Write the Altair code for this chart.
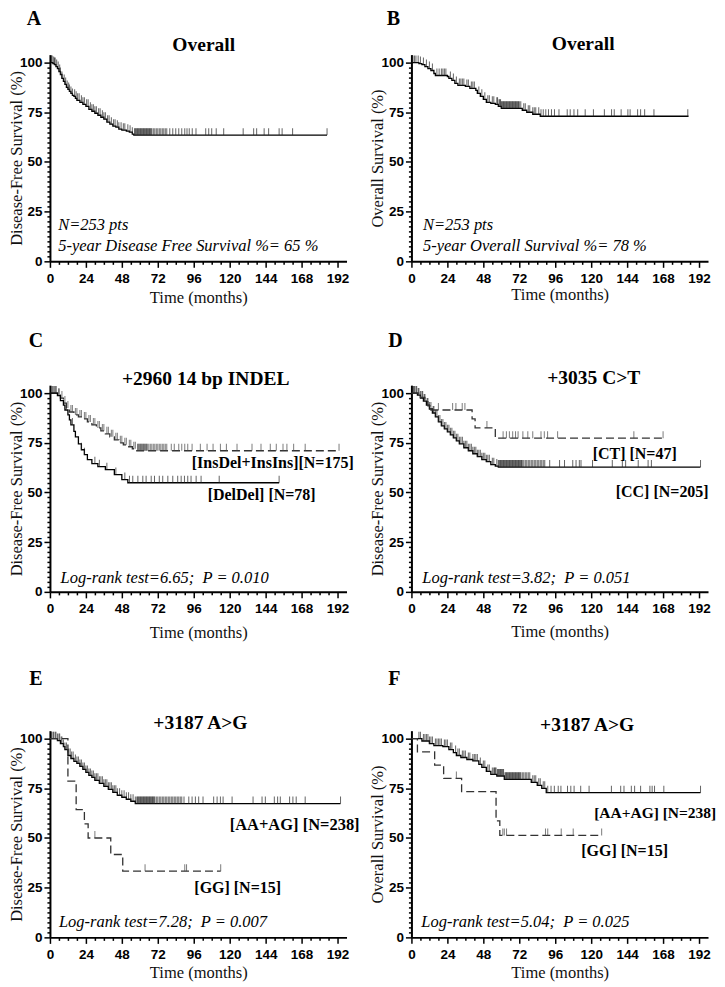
import altair as alt
import pandas as pd
from bisect import bisect_right

# ---------------- data ----------------
# Panel A: Disease-free survival, overall
A_t = [0, 2, 3, 4, 5, 6, 7, 8, 9, 10, 11, 12, 13, 14, 15, 16, 17, 18, 20, 22, 24, 26, 28, 30, 32, 34, 36, 38, 40, 42, 44, 46, 48, 51, 53, 55, 56]
A_s = [100, 99.5, 99, 98, 97, 95.5, 94, 92, 90.5, 89, 87.5, 86.5, 85.5, 84.5, 83.5, 83, 82, 81, 80, 79, 78, 76.5, 75.5, 74.5, 73.5, 72.5, 71.5, 70, 69, 68, 67.5, 66.5, 66, 65.5, 65, 64, 63.5]
A_end = 185
A_c = [1, 1.5, 2.5, 3, 3.5, 4.5, 5.5, 6.5, 7, 8, 9.5, 10.5, 11.5, 12.5, 13, 14, 15, 16.5, 17.5, 18.5, 19.5, 21, 22, 23, 24.5, 25.5, 27, 28, 29, 30, 31, 32.5, 33.5, 35, 36, 37, 38.5, 39.5, 41, 42.5, 43.5, 45, 46, 47.5, 49, 50, 52, 53.5, 55,
       56.5, 57, 57.5, 58, 58.5, 59, 59.5, 60, 60.5, 61, 61.5, 62, 62.5, 63, 63.5, 64, 64.5, 65, 65.5, 66, 66.5, 67, 67.5, 68, 69, 70, 71, 72, 73, 74, 75, 76, 77, 78,
       80, 82, 84, 86, 88, 90, 91.5, 93, 95, 97.5, 104, 106, 108, 111, 116, 129, 136, 138, 143, 146, 153, 155, 162, 185]

# Panel B: Overall survival, overall
B_t = [0, 5, 7, 9, 11, 13, 15, 16, 24, 25, 27, 29, 31, 36, 39, 43, 44, 46, 48, 50, 53, 56, 58, 60, 74, 77, 81, 86]
B_s = [100, 99.5, 99, 98, 97, 96, 94.5, 93.5, 93, 92, 91, 89.5, 88.5, 88, 87, 86, 84.5, 83, 81.5, 80, 79.5, 79, 78, 77, 76, 75, 74, 73]
B_end = 185
B_c = [1, 2, 3, 4.5, 6, 8, 10, 12, 14, 17, 18.5, 20, 21, 22, 23, 26, 28, 30, 32, 33, 34, 35, 37, 38, 40, 41, 42, 45, 47, 49, 51, 52, 54, 55, 57,
       57.5, 58.5, 59, 59.5, 60, 60.5, 61, 61.5, 62, 62.5, 63, 63.5, 64, 64.5, 65, 65.5, 66, 66.5, 67, 67.5, 68, 68.5, 69, 69.5, 70, 70.5, 71, 71.5, 72, 73,
       75, 76, 78, 79, 81, 82, 83, 85, 86.5, 88,
       89.7, 91.5, 93.5, 95.5, 98.5, 104, 106, 108.5, 111, 116, 121.5, 128.8, 133.6, 135.4, 140, 144.5, 146, 151, 153, 155.7, 161.9, 184.5]

# Panel C: +2960 14 bp INDEL (DFS)
C1_t = [0, 5, 7, 9, 11, 13, 16, 19, 22, 25, 28, 31, 34, 37, 40, 43, 46, 49, 52, 55, 58]
C1_s = [100, 99, 97.5, 95, 92.5, 90.5, 89, 88, 87, 85.5, 84, 82.5, 81, 79.5, 78, 76.5, 75, 74, 73, 72, 71]
C1_end = 193
C1_c = [1, 2, 3, 4, 6, 8, 10, 12, 14, 15, 17, 18, 20, 21, 23, 24, 26, 27, 29, 30, 32, 33, 35, 36, 38, 39, 41, 42, 44, 45, 47, 48, 50, 51, 53, 54, 56, 57,
        58.5, 59, 59.5, 60, 60.5, 61, 61.5, 62, 62.5, 63, 63.5, 64, 64.5, 65, 66, 67, 68, 69, 70, 71, 72, 73, 74, 75, 76, 77, 78,
        81, 83, 86, 88, 90, 92, 94.9, 100.4, 104.9, 108.9, 113.8, 117.8, 124.9, 134.9, 140.9, 147.1, 151.1, 155.6, 158.2, 162.7, 170.4, 193]
C2_t = [0, 5, 7, 9, 10, 12, 13, 14, 16, 17, 19, 21, 23, 25, 28, 32, 37, 43, 48, 52]
C2_s = [100, 98.7, 96.2, 94, 91.5, 89, 86.5, 84, 80.7, 78, 74.5, 71.5, 69, 66.5, 64.5, 63, 61.5, 59, 56.5, 54.9]
C2_end = 153
C2_c = [2, 4, 6, 15, 21, 23, 30, 33, 38, 44, 50, 53.1, 55.3, 58.7, 62, 64.2, 67.6, 69.8, 73, 75.3, 78.7, 82, 85.3, 87.6, 89.8, 92, 94.2, 97.6, 100.9, 113, 153]

# Panel D: +3035 C>T (DFS)
D1_t = [0, 4, 6, 8, 10, 12, 14, 16, 18, 20, 22, 24, 26, 28, 30, 32, 35, 38, 41, 44, 47, 50, 53, 56, 58]
D1_s = [100, 99, 97.5, 96, 94, 92, 90, 88, 85.5, 83.5, 82, 80.5, 79, 77.5, 76, 74.5, 72.5, 71, 69.5, 68, 66.5, 65.5, 64, 63.3, 62.8]
D1_end = 193
D1_c = [1, 1.5, 2, 3, 3.5, 4.5, 5, 6, 7, 7.5, 8.5, 9, 10.5, 11, 12, 13, 14.5, 15, 16, 17, 18, 19, 20, 21, 22, 23, 24, 25, 26, 27, 28, 29, 30, 31, 32, 33, 34, 35, 36, 37, 38, 39, 40, 41, 42, 43, 44, 45, 46, 47, 48, 49, 50, 51, 52, 54, 55, 57,
        58, 58.5, 59, 59.5, 60, 60.5, 61, 61.5, 62, 62.5, 63, 63.5, 64, 64.5, 65, 65.5, 66, 66.5, 67, 67.5, 68, 68.5, 69, 69.5, 70, 70.5, 71, 71.5, 72, 72.5, 73, 73.5, 74, 75, 76, 77, 78, 79, 80, 81, 82, 83, 84, 85, 86, 87, 88, 89,
        92.3, 98.9, 102.2, 107.7, 109.9, 112.1, 113.2, 120.9, 134.1, 140.8, 143, 151.4, 158, 160.2, 193]
D2_t = [0, 6, 9, 11, 13, 40.5, 42.5, 56]
D2_s = [100, 97.9, 95.7, 93.6, 91.5, 87, 82.5, 77.3]
D2_end = 168
D2_c = [18, 27.5, 29.7, 33.9, 35.7, 50.4, 61.2, 63.4, 65.4, 67.6, 69.5, 71.2, 74.4, 77.7, 81, 86.5, 88.7, 90.9, 97.6, 148.5, 168]

# Panel E: +3187 A>G (DFS)
E1_t = [0, 5, 7, 9, 10, 12, 14, 16, 18, 20, 22, 24, 26, 28, 30, 33, 36, 39, 42, 45, 48, 51, 54, 57]
E1_s = [100, 99, 97.5, 96, 94.5, 91.5, 90, 88.5, 87.5, 86, 84.5, 83, 81.5, 80.5, 79, 77.5, 76, 74.5, 73, 71.5, 70.5, 69.5, 68.5, 67.3]
E1_end = 194
E1_c = [1, 2, 2.5, 3.5, 4, 5, 6, 6.5, 7.5, 8, 9, 10, 11, 12.5, 13.5, 14.5, 15.5, 17, 18, 19, 20, 21, 22, 23, 24, 25, 26, 27, 28, 29, 30, 31, 32, 33, 34, 35, 36, 37, 38, 39, 40, 41, 42, 43, 44, 45, 46.5, 48, 49.5, 51, 52.5, 54, 55.5, 57,
        58, 58.5, 59, 59.5, 60, 60.5, 61, 61.5, 62, 62.5, 63, 63.5, 64, 64.5, 65, 65.5, 66, 66.5, 67, 67.5, 68, 68.5, 69, 69.5, 70, 71, 72, 73, 74, 75, 76, 77, 78, 79, 80, 81, 82, 83, 84, 85, 86, 87, 88, 89.5,
        92.7, 94.9, 97.1, 99.3, 102.2, 109.3, 111.6, 113.8, 115.6, 121.6, 135.6, 141.6, 143.8, 149.8, 152, 153.8, 160, 162.2, 164.4, 170.4, 194]
E2_t = [0, 12, 17.5, 23, 25.5, 40.6, 48.6]
E2_s = [100, 78.6, 64.3, 57.1, 50, 41.7, 33.3]
E2_end = 114
E2_c = [30, 63.5, 90, 91.2, 114]

# Panel F: +3187 A>G (OS)
F1_t = [0, 7, 12, 15, 21, 25, 28, 30, 33, 37, 41, 45, 47, 50, 53, 57, 62, 80, 84, 87, 90]
F1_s = [100, 98.8, 97.5, 96.5, 96, 94.5, 93, 91.5, 90.5, 89.5, 88.8, 87, 85.5, 83.5, 82, 81.2, 79.5, 78, 76.5, 75, 72.8]
F1_end = 193
F1_c = [5, 6, 8, 9, 10, 11, 12, 13, 14, 16, 17, 18, 19, 20, 22, 23, 24, 26, 27, 29.5, 31, 32, 34, 35, 36, 38, 39, 41, 42, 43, 44, 46, 48, 49, 51, 52, 54, 55, 55.5, 56, 56.5, 57.5, 58, 58.5, 59, 59.5, 60, 60.5, 61, 61.5,
        62.5, 63, 63.5, 64, 64.5, 65, 65.5, 66, 66.5, 67, 67.5, 68, 68.5, 69, 69.5, 70, 70.5, 71, 71.5, 72, 72.5, 73, 74, 75, 76, 77, 78, 79, 81, 82, 83, 85, 86, 88, 89,
        91, 93.2, 95.4, 98, 99.8, 104.2, 106.4, 108.6, 113, 118.6, 133.5, 139.7, 141.9, 146.8, 149, 153, 159.2, 160.7, 162.3, 168.5, 193]
F2_t = [0, 4, 15.5, 21.5, 33.5, 56.5, 59]
F2_s = [100, 93.3, 86.7, 80, 73.3, 58.6, 51.3]
F2_end = 127
F2_c = [30, 61, 62, 63.5, 89.5, 91, 100, 108, 127]

# axis ticks
X_TICKS = list(range(0, 193, 6))
Y_TICKS = [v / 2 for v in range(0, 201, 5)]

SERIF = "Liberation Serif"
SANS = "Liberation Sans"


def km_df(ts, ss, end):
    return pd.DataFrame({"t": ts + [end], "s": ss + [ss[-1]]})


def cens_df(ts, ss, cens):
    ys = [ss[bisect_right(ts, c) - 1] for c in cens]
    return pd.DataFrame({"t": cens, "s": ys})


def text_layer(label, px, py, **style):
    return alt.Chart(pd.DataFrame({"label": [label]})).mark_text(
        font=SERIF, fontWeight="bold", color="black", **style
    ).encode(x=alt.value(px), y=alt.value(py), text="label:N")


def panel(letter, letter_pos, title, title_pos, ytitle, xtpad, curves, notes, labels):
    x = alt.X("t:Q", scale=alt.Scale(domain=[0, 198], nice=False, zero=True),
              axis=alt.Axis(values=X_TICKS,
                            labelExpr="datum.value % 24 === 0 ? datum.label : ''",
                            tickSize={"condition": {"test": "datum.value % 24 === 0", "value": 6}, "value": 3},
                            title="Time (months)", titlePadding=xtpad,
                            labelFlush=False, labelOverlap=False, labelPadding=4))
    y = alt.Y("s:Q", scale=alt.Scale(domain=[0, 104], nice=False, zero=True),
              axis=alt.Axis(values=Y_TICKS,
                            labelExpr="datum.value % 25 === 0 ? datum.label : ''",
                            tickSize={"condition": {"test": "datum.value % 25 === 0", "value": 6}, "value": 3},
                            title=ytitle, titlePadding=-5, labelOverlap=False, labelPadding=2))
    layers = []
    for ts, ss, end, cens, dashed in curves:
        style = dict(color="#333333", strokeDash=[8, 4]) if dashed else dict(color="black")
        layers.append(alt.Chart(km_df(ts, ss, end)).mark_line(
            interpolate="step-after", strokeWidth=1.3, **style).encode(x=x, y=y))
        layers.append(alt.Chart(cens_df(ts, ss, cens)).mark_tick(
            orient="vertical", size=7, thickness=1, yOffset=-3.5,
            color="#444444" if dashed else "#222222").encode(x=x, y=y))
    if notes:
        nd = pd.DataFrame({"t": [n[1] for n in notes], "s": [n[2] for n in notes],
                           "label": [n[0] for n in notes]})
        layers.append(alt.Chart(nd).mark_text(
            align="left", baseline="middle", font=SERIF, fontSize=16.5,
            fontStyle="italic", color="black").encode(x=x, y=y, text="label:N"))
    if labels:
        ld = pd.DataFrame({"t": [l[1] for l in labels], "s": [l[2] for l in labels],
                           "label": [l[0] for l in labels], "fs": [l[3] for l in labels]})
        layers.append(alt.Chart(ld).mark_text(
            align="left", baseline="middle", font=SERIF, fontWeight="bold",
            color="black").encode(x=x, y=y, text="label:N",
                                  size=alt.Size("fs:Q", scale=None)))
    layers.append(text_layer(title, title_pos[0], title_pos[1], fontSize=19.5,
                             align="center", baseline="alphabetic"))
    layers.append(text_layer(letter, letter_pos[0], letter_pos[1], fontSize=20,
                             align="center", baseline="middle"))
    return alt.layer(*layers).properties(width=297, height=207)


NS = "; \u00a0P = "
pA = panel("A", (-16, -36), "Overall", (154, -3.5), "Disease-Free Survival (%)", 4.5,
           [(A_t, A_s, A_end, A_c, False)],
           [("N=253 pts", 5.5, 18.3), ("5-year Disease Free Survival %= 65 %", 5.5, 7.8)], [])
pB = panel("B", (-18, -36), "Overall", (172, -4.5), "Overall Survival (%)", 2,
           [(B_t, B_s, B_end, B_c, False)],
           [("N=253 pts", 7.7, 18.4), ("5-year Overall Survival %= 78 %", 7.7, 7.5)], [])
pC = panel("C", (-14, -44), "+2960 14 bp INDEL", (156, 0), "Disease-Free Survival (%)", 9.5,
           [(C1_t, C1_s, C1_end, C1_c, True), (C2_t, C2_s, C2_end, C2_c, False)],
           [("Log-rank test=6.65" + NS + "0.010", 7.1, 7.2)],
           [("[InsDel+InsIns][N=175]", 94.7, 64.7, 16), ("[DelDel] [N=78]", 105.3, 48.9, 16)])
pD = panel("D", (-16, -44), "+3035 C>T", (182.6, -1.5), "Disease-Free Survival (%)", 8.5,
           [(D1_t, D1_s, D1_end, D1_c, False), (D2_t, D2_s, D2_end, D2_c, True)],
           [("Log-rank test=3.82" + NS + "0.051", 7.3, 7.0)],
           [("[CT] [N=47]", 121, 69.5, 16), ("[CC] [N=205]", 136.4, 50.3, 16)])
pE = panel("E", (-14, -52), "+3187 A>G", (150.7, -2), "Disease-Free Survival (%)", 3.5,
           [(E1_t, E1_s, E1_end, E1_c, False), (E2_t, E2_s, E2_end, E2_c, True)],
           [("Log-rank test=7.28" + NS + "0.007", 6, 7.5)],
           [("[AA+AG] [N=238]", 120, 56.7, 16.5), ("[GG] [N=15]", 96.4, 25, 16)])
pF = panel("F", (-17, -52), "+3187 A>G", (176, 0), "Overall Survival (%)", 3.5,
           [(F1_t, F1_s, F1_end, F1_c, False), (F2_t, F2_s, F2_end, F2_c, True)],
           [("Log-rank test=5.04" + NS + "0.025", 6.6, 7.5)],
           [("[AA+AG] [N=238]", 122, 62.8, 15.5), ("[GG] [N=15]", 113.4, 43.7, 16)])

row1 = alt.hconcat(pA, pB, spacing=65, bounds="flush")
row2 = alt.hconcat(pC, pD, spacing=65, bounds="flush")
row3 = alt.hconcat(pE, pF, spacing=65, bounds="flush")
top = alt.vconcat(row1, row2, spacing=25)
chart = alt.vconcat(top, row3, spacing=27).properties(
    padding=0, background="white"
).configure_view(stroke=None).configure_axis(
    domainColor="black", domainWidth=2, tickColor="black", tickWidth=1.5,
    labelFont=SANS, labelFontWeight="bold", labelFontSize=13.5, labelColor="black",
    titleFont=SERIF, titleFontWeight="normal", titleFontSize=16.5, titleColor="#111111",
    grid=False
)

chart.save("out.html", embed_options={"renderer": "svg", "actions": False})
